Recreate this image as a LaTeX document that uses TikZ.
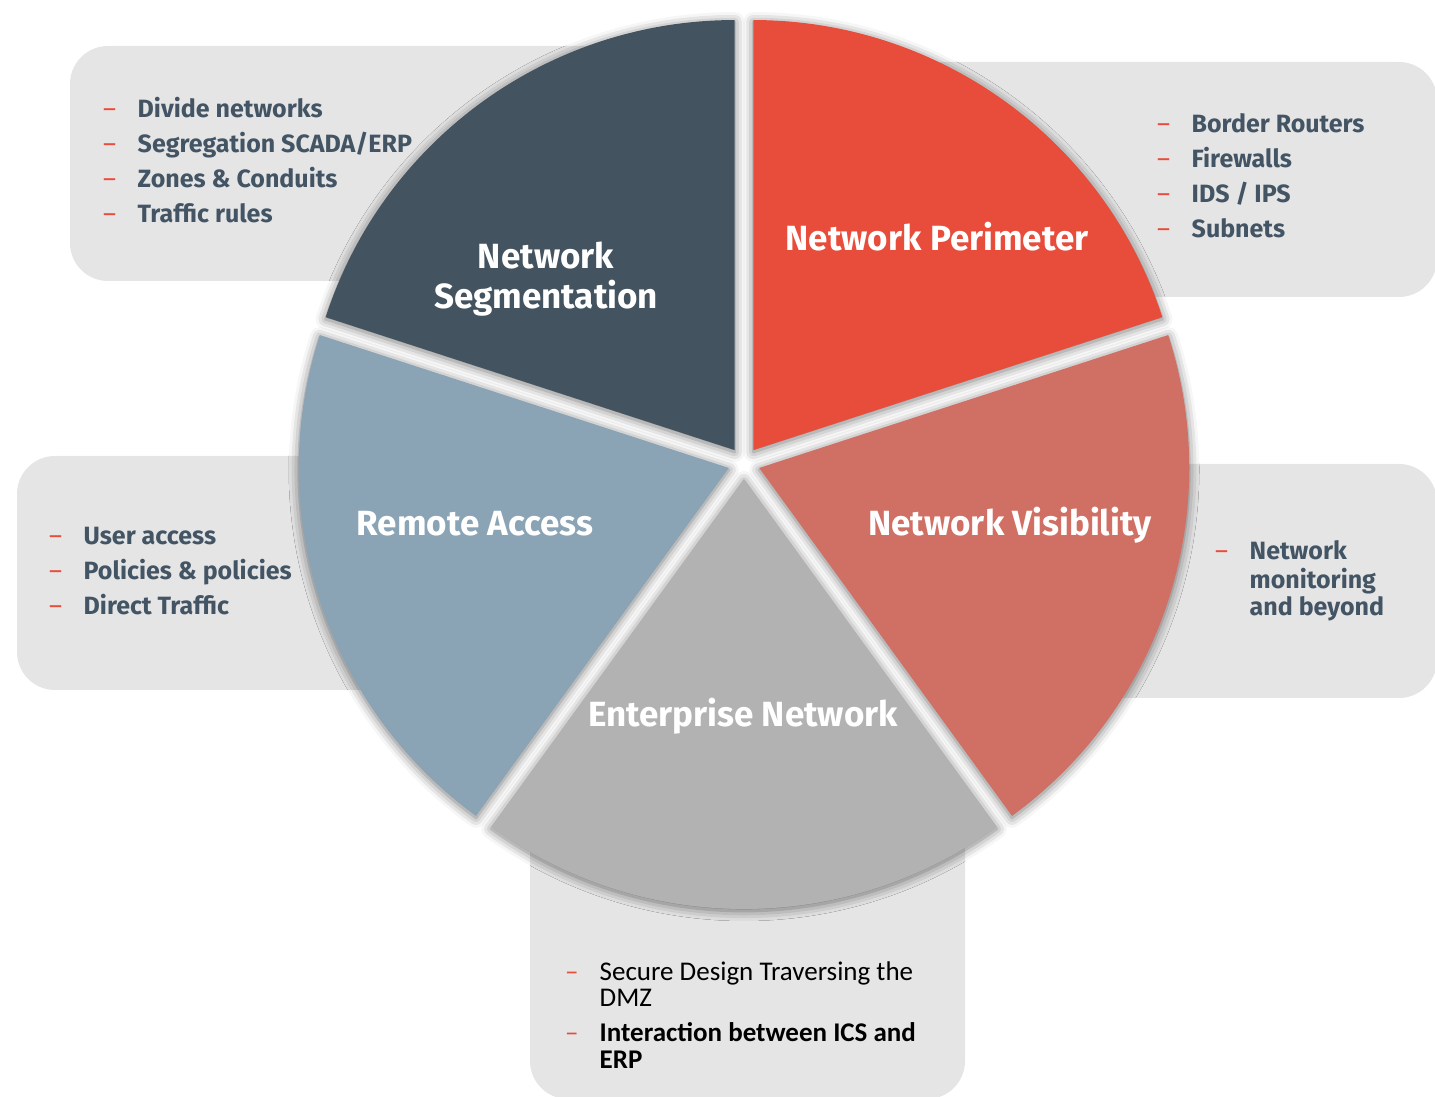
\documentclass[tikz,border=0pt]{standalone}
\usepackage{fontspec}
\setmainfont{Fira Sans}
\newfontfamily\carl{Carlito}
\usetikzlibrary{shadows.blur,calc}

\definecolor{segc}{HTML}{43535F}
\definecolor{perc}{HTML}{E84C3A}
\definecolor{visc}{HTML}{D07064}
\definecolor{entc}{HTML}{B2B2B2}
\definecolor{remc}{HTML}{8AA3B5}
\definecolor{boxgray}{HTML}{E5E5E5}
\definecolor{listc}{HTML}{435564}
\definecolor{dashc}{HTML}{E84C3A}

\newcommand\bdash{\makebox[34.5pt][l]{\textcolor{dashc}{\mdseries –}}}

\begin{document}
\begin{tikzpicture}[x=1pt,y=1pt,
  infobox/.style={fill=boxgray, rounded corners=38pt},
  pieslice/.style={blur shadow={shadow xshift=0pt, shadow yshift=-2pt,
      shadow blur radius=10pt, shadow opacity=55}},
  pielabel/.style={text=white, font={\bfseries\fontsize{35}{40}\selectfont},
      align=center, inner sep=0pt},
  listtext/.style={anchor=base west, inner sep=0pt, text=listc,
      font={\bfseries\fontsize{25}{35}\selectfont}}]
\useasboundingbox (0,0) rectangle (1435,1096);

% background info panels, each tucked behind its slice
\fill[infobox] (70,815) rectangle (720,1050);
\fill[infobox] (775,799) rectangle (1437,1034);
\fill[infobox] (17,406) rectangle (500,640);
\fill[infobox] (1000,398) rectangle (1437,632);
\fill[infobox] (530,-3) rectangle (965,296);

% exploded pie: centre, radius, offset of each slice
\coordinate (c) at (744,633);
\def\rad{430}
\def\off{16}
\foreach \a/\b/\col/\nm in {90/162/segc/seg, 18/90/perc/per, -54/18/visc/vis,
                           -126/-54/entc/ent, 162/234/remc/rem}{
  \pgfmathsetmacro\mid{(\a+\b)/2}
  \fill[pieslice, \col] ($(c)+(\mid:\off)$) coordinate (\nm apex)
     -- ++(\a:\rad) arc[start angle=\a, end angle=\b, radius=\rad] -- cycle;
}

% slice titles
\node[pielabel] (seglabel) at (546,817) {Network\\Segmentation};
\node[pielabel, anchor=base] (perlabel) at (937,845) {Network Perimeter};
\node[pielabel, anchor=base] (vislabel) at (1010,560) {Network Visibility};
\node[pielabel, anchor=base] (remlabel) at (475,560) {Remote Access};
\node[pielabel, anchor=base] (entlabel) at (743,369) {Enterprise Network};

% bullet lists
\node[listtext] (seglist) at (103,978) {\begin{tabular}[t]{@{}l@{}l@{}}
  \bdash & Divide networks\\
  \bdash & Segregation SCADA/ERP\\
  \bdash & Zones \& Conduits\\
  \bdash & Traffic rules
\end{tabular}};

\node[listtext] (perlist) at (1157,963) {\begin{tabular}[t]{@{}l@{}l@{}}
  \bdash & Border Routers\\
  \bdash & Firewalls\\
  \bdash & IDS / IPS\\
  \bdash & Subnets
\end{tabular}};

\node[listtext] (remlist) at (49,551) {\begin{tabular}[t]{@{}l@{}l@{}}
  \bdash & User access\\
  \bdash & Policies \& policies\\
  \bdash & Direct Traffic
\end{tabular}};

\node[listtext, font={\bfseries\fontsize{25}{27}\selectfont}] (vislist) at (1215,536)
{\begin{tabular}[t]{@{}l@{}l@{}}
  \bdash & Network\\
         & monitoring\\
         & and beyond
\end{tabular}};

\node[listtext, text=black, font={\carl\fontsize{27}{26.5}\selectfont}] (entlist) at (565,116)
{\begin{tabular}[t]{@{}l@{}l@{}}
  \bdash & Secure Design Traversing the\\
         & DMZ\\[8.5pt]
  \bdash & \textbf{Interaction between ICS and}\\
         & \textbf{ERP}
\end{tabular}};
\end{tikzpicture}
\end{document}
